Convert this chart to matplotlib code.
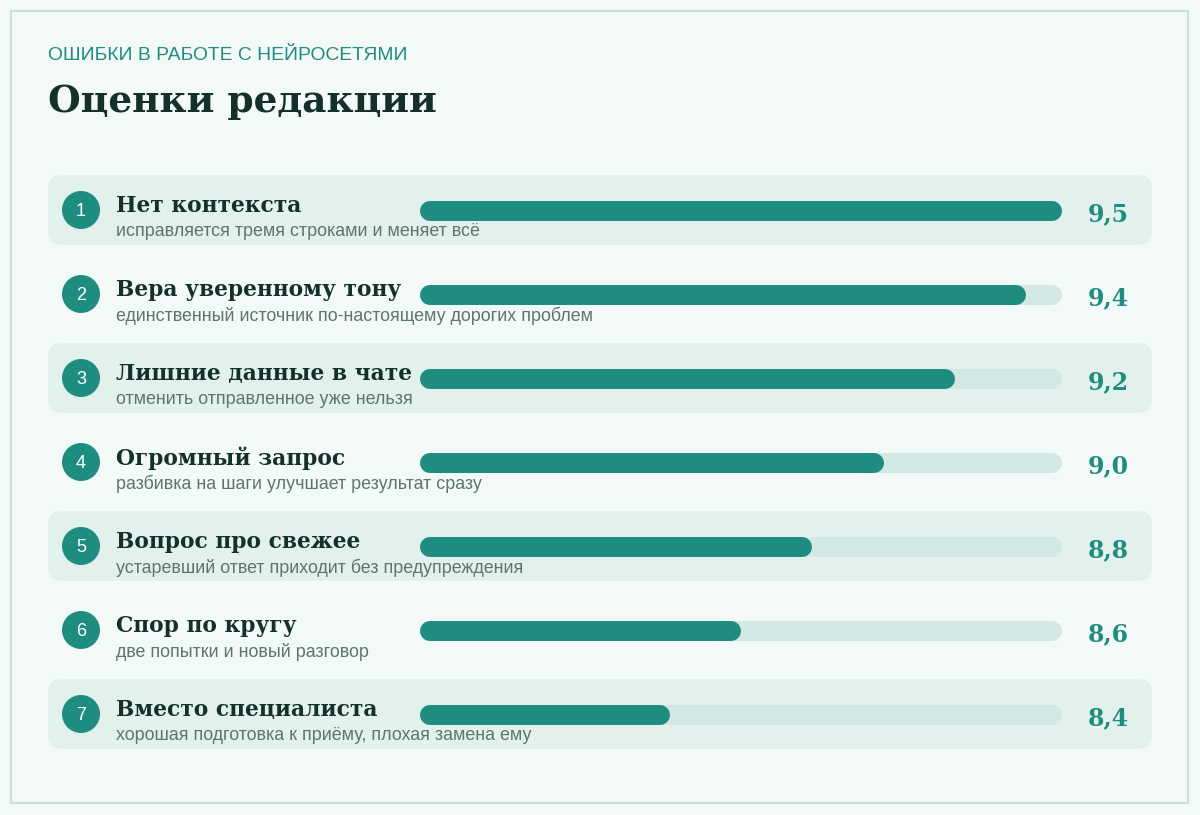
import matplotlib
matplotlib.use("Agg")
import matplotlib.pyplot as plt
from matplotlib.patches import FancyBboxPatch, Circle, Rectangle

kicker = "ОШИБКИ В РАБОТЕ С НЕЙРОСЕТЯМИ"
title = "Оценки редакции"
names = ["Нет контекста", "Вера уверенному тону", "Лишние данные в чате",
         "Огромный запрос", "Вопрос про свежее", "Спор по кругу", "Вместо специалиста"]
notes = ["исправляется тремя строками и меняет всё",
         "единственный источник по-настоящему дорогих проблем",
         "отменить отправленное уже нельзя",
         "разбивка на шаги улучшает результат сразу",
         "устаревший ответ приходит без предупреждения",
         "две попытки и новый разговор",
         "хорошая подготовка к приёму, плохая замена ему"]
scores = [9.5, 9.4, 9.2, 9.0, 8.8, 8.6, 8.4]
labels = ["9,5", "9,4", "9,2", "9,0", "8,8", "8,6", "8,4"]

BG = "#f3f9f7"; BAND = "#e2f1ec"; BAR = "#1f8c80"; TRACK = "#d3e8e4"
DARK = "#14302a"; GREY = "#5f7470"; TEAL = "#1f8c80"
SERIF = ["DejaVu Serif"]
SANS = ["Liberation Sans", "DejaVu Sans"]

W, H = 1200, 815
fig = plt.figure(figsize=(12, 8.15), dpi=100, facecolor=BG)
bg = fig.add_axes([0, 0, 1, 1])
bg.set_xlim(0, W); bg.set_ylim(H, 0); bg.axis("off")
bg.add_patch(Rectangle((11, 11), 1177, 792, fill=False, ec="#c9e0da", lw=1.5))
bg.text(48, 56, kicker, color=TEAL, fontsize=13.9, va="center", family=SANS)
bg.text(48, 101, title, color=DARK, fontsize=27, fontweight="bold", va="center", family=SERIF)

y0, step = 210, 84
for i, (n, nt, lab) in enumerate(zip(names, notes, labels)):
    yc = y0 + i * step
    if i % 2 == 0:
        bg.add_patch(FancyBboxPatch((48, yc - 35), 1104, 70,
                     boxstyle="round,pad=0,rounding_size=14", fc=BAND, ec="none"))
    bg.add_patch(Circle((81, yc), 19, fc=BAR, ec="none"))
    bg.text(81, yc + 1, str(i + 1), color="white", fontsize=13, ha="center", va="center",
            family=SANS)
    bg.text(116, yc - 4, n, color=DARK, fontsize=15.7, fontweight="bold", va="center", family=SERIF)
    bg.text(116, yc + 22, nt, color=GREY, fontsize=12.9, va="center", family=SANS)
    bg.text(1108, yc + 4, lab, color=TEAL, fontsize=17, fontweight="bold", ha="center",
            va="center", family=SERIF)

# bar axes: cap centres at 430 .. 1052 px
ax = fig.add_axes([430 / W, 0, (1052 - 430) / W, 1])
ax.set_xlim(7.755, 9.5)
ax.set_ylim(H, 0)
ax.axis("off")
ax.patch.set_alpha(0)
lw = 20 * 72 / 100
for i, s in enumerate(scores):
    yc = y0 + 1 + i * step
    ax.plot([7.755, 9.5], [yc, yc], color=TRACK, lw=lw, solid_capstyle="round", clip_on=False)
    ax.plot([7.755, s], [yc, yc], color=BAR, lw=lw, solid_capstyle="round", clip_on=False)

fig.savefig("out.png", dpi=100, facecolor=BG)
